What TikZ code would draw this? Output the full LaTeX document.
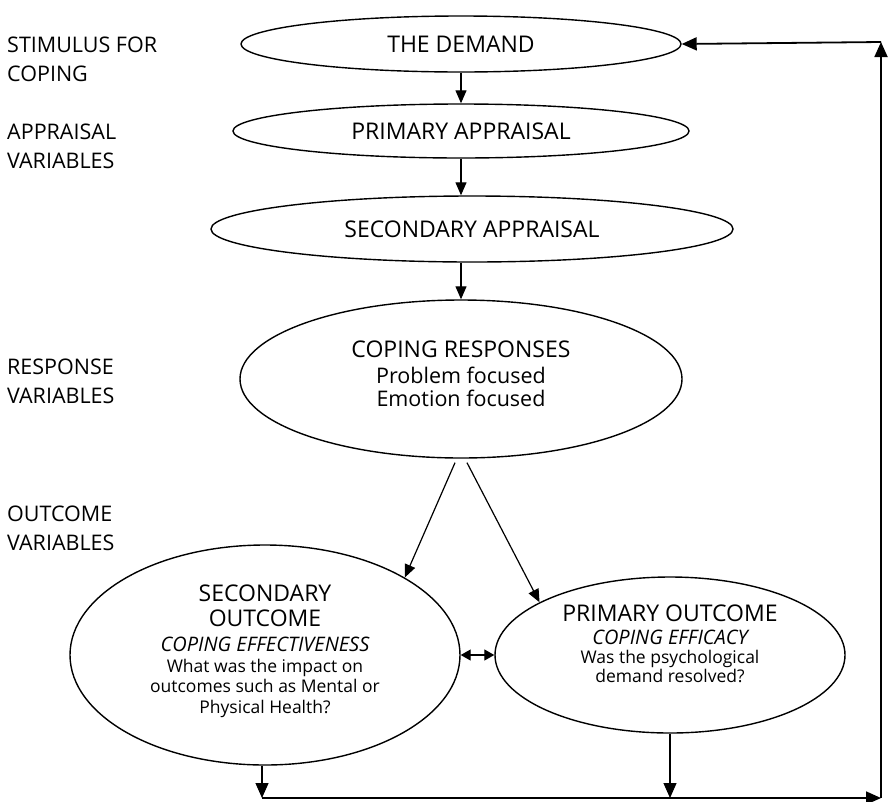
\documentclass[tikz,border=0pt]{standalone}
\usepackage{fontspec}
\setmainfont{Open Sans}
\usetikzlibrary{shapes.geometric,arrows.meta,calc}
\begin{document}
\begin{tikzpicture}[x=1pt,y=-1pt,
  ell/.style={draw,ellipse,line width=1.4pt,inner sep=0pt,align=center},
  side/.style={anchor=west,align=left,inner sep=0pt,font=\fontsize{21.5}{29}\selectfont},
  arr/.style={line width=1.2pt,-{Triangle[length=13pt,width=11pt]}},
  bigarr/.style={line width=1.2pt,-{Triangle[length=15pt,width=13pt]}},
  loop/.style={line width=1.8pt,-{Triangle[length=15pt,width=13pt]}}]
\useasboundingbox (0,0) rectangle (888,801);
% left labels
\node[side] (l1) at (7,59.5) {STIMULUS FOR\\COPING};
\node[side] (l2) at (7,146.5) {APPRAISAL\\VARIABLES};
\node[side] (l3) at (7,381.5) {RESPONSE\\VARIABLES};
\node[side] (l4) at (7,528.5) {OUTCOME\\VARIABLES};
% ellipses
\node[ell,minimum width=440pt,minimum height=56pt,font=\fontsize{23}{26}\selectfont] (demand) at (461,44) {THE DEMAND};
\node[ell,minimum width=456pt,minimum height=54pt,font=\fontsize{23}{26}\selectfont] (prim) at (461,131) {PRIMARY APPRAISAL};
\node[ell,minimum width=522pt,minimum height=66pt,font=\fontsize{23}{26}\selectfont] (sec) at (472,229) {SECONDARY APPRAISAL};
\node[ell,minimum width=442pt,minimum height=158pt,font=\fontsize{21.5}{23}\selectfont] (cop) at (461,379)
  {{\fontsize{23}{26}\selectfont COPING RESPONSES}\\[3pt]
   Problem focused\\
   Emotion focused\rule[-11.4pt]{0pt}{0pt}};
\node[ell,minimum width=390pt,minimum height=220pt,font=\fontsize{17.5}{20.5}\selectfont] (secout) at (265,655)
  {{\fontsize{23}{26}\selectfont SECONDARY}\\[4.5pt]
   {\fontsize{23}{26}\selectfont OUTCOME}\\[4.5pt]
   {\fontsize{20}{22}\selectfont\itshape COPING EFFECTIVENESS}\\
   What was the impact on\\
   outcomes such as Mental or\\
   Physical Health?\rule[-11.4pt]{0pt}{0pt}};
\node[ell,minimum width=350pt,minimum height=156pt,font=\fontsize{17.5}{19}\selectfont] (primout) at (670,655)
  {{\fontsize{23}{26}\selectfont PRIMARY OUTCOME}\\[4pt]
   {\fontsize{20}{22}\selectfont\itshape COPING EFFICACY}\\
   Was the psychological\\
   demand resolved?\rule[-22pt]{0pt}{0pt}};
% vertical arrows
\draw[arr] (demand.south) -- (prim.north);
\draw[arr] (prim.south) -- (prim.south |- sec.north);
\draw[arr] (sec.south -| cop.north) -- (cop.north);
% split arrows
\coordinate (s1) at ($(cop.south)+(-6,4)$);
\coordinate (s2) at ($(cop.south)+(6,4)$);
\draw[arr] (s1) -- (secout.29);
\draw[arr] (s2) -- (primout.158);
% double arrow
\draw[line width=1.2pt,{Triangle[length=10pt,width=11pt]}-{Triangle[length=10pt,width=11pt]}] (secout.east) -- (primout.west);
% feedback loop
\coordinate (bl) at (262,798);
\coordinate (br) at (881,798);
\coordinate (tr) at (881,42);
\draw[bigarr] ($(secout.south)+(-3,0)$) -- (bl);
\draw[bigarr] (primout.south) -- (primout.south |- bl);
\draw[loop] (bl) -- (br);
\draw[loop] (br) -- (tr);
\draw[loop] (tr) -- (demand.east);
\end{tikzpicture}
\end{document}
